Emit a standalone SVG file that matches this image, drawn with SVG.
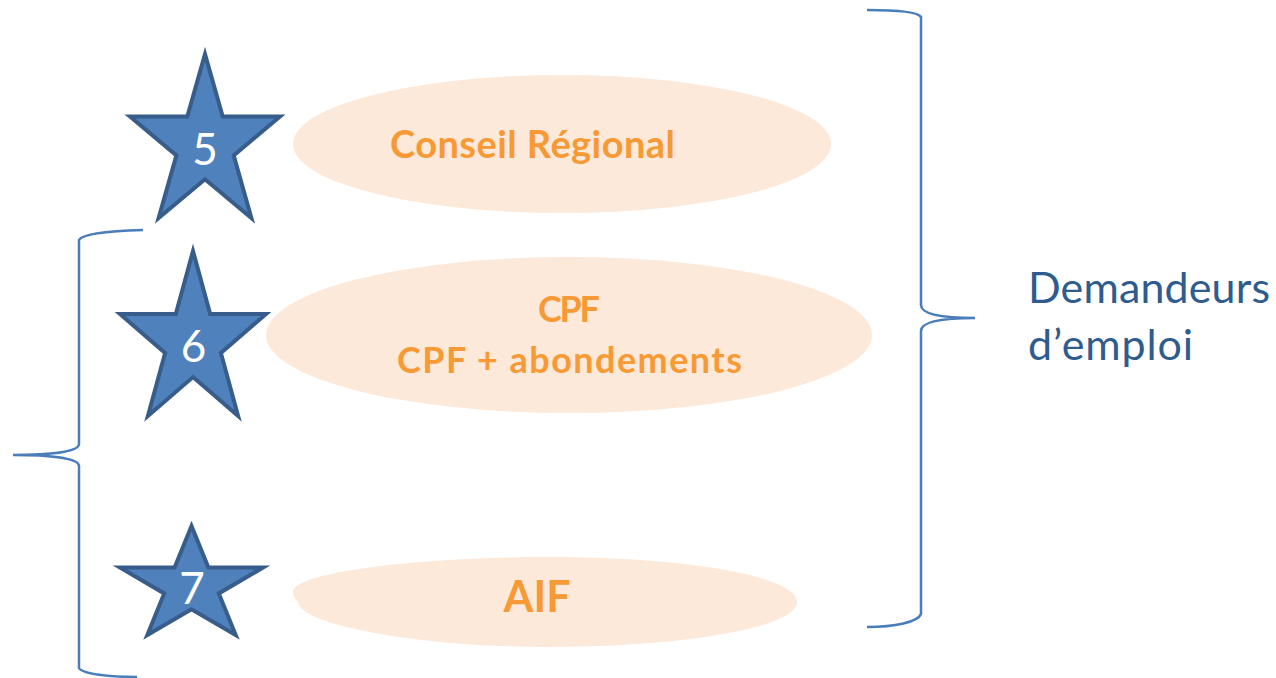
<svg xmlns="http://www.w3.org/2000/svg" width="1276" height="678" viewBox="0 0 1276 678">
<style>
.star{fill:#4F81BD;stroke:#385D8A;stroke-width:4;stroke-linejoin:miter}
.num{font-family:Lato,"Liberation Sans",sans-serif;font-size:44px;fill:#FFFFFF;text-anchor:middle}
.oval{fill:#FDE9D9;stroke:none}
.lbl{font-family:Lato,"Liberation Sans",sans-serif;font-weight:bold;fill:#F79A35;text-anchor:middle}
.brace{fill:none;stroke:#4A7EBB;stroke-width:2.5}
.side{font-family:Lato,"Liberation Sans",sans-serif;font-size:43px;fill:#2F5C8F}
</style>
<rect width="1276" height="678" fill="#FFFFFF"/>
<g id="connectors">
<path class="brace" d="M 867,10 C 895,10 918,12 921,17 L 921,305 C 921,314 940,318 975,318 C 940,318 921,322 921,331 L 921,614 C 918,622 895,627 867,627"/>
<path class="brace" d="M 143,230 C 110,231 82,234 79,240 L 79,444 C 79,452 50,455 13,455 C 50,455 79,458 79,466 L 79,668 C 82,674 110,677 137,677"/>
</g>
<g id="oval-conseil">
<ellipse class="oval" cx="562" cy="144" rx="269" ry="69"/>
<text class="lbl" x="532.5" y="158" font-size="38" textLength="285" lengthAdjust="spacing">Conseil Régional</text>
</g>
<g id="oval-cpf">
<ellipse class="oval" cx="569" cy="335" rx="303" ry="78"/>
<text class="lbl" x="569" y="322" font-size="36" textLength="62" lengthAdjust="spacing">CPF</text>
<text class="lbl" x="569.5" y="373" font-size="36" textLength="345" lengthAdjust="spacing">CPF + abondements</text>
</g>
<g id="oval-aif">
<path class="oval" d="M 298,602 C 300,625 420,647 548,647 C 680,647 797,628 797,602 C 797,575 680,557 548,557 C 420,557 293,572 293,592 C 293,597 296,599 298,602 Z"/>
<text class="lbl" x="537" y="612" font-size="43">AIF</text>
</g>
<g id="star-5">
<path class="star" d="M 205,54 L 222.7,116.6 L 280,116.6 L 233.7,155.4 L 251.4,218 L 205,179.3 L 158.6,218 L 176.4,155.4 L 130,116.6 L 187.3,116.6 Z"/>
<text class="num" x="205" y="165">5</text>
</g>
<g id="star-6">
<path class="star" d="M 193,251 L 210.2,314 L 266,314 L 220.9,353 L 238.1,416 L 193,377.1 L 147.9,416 L 165.1,353 L 120,314 L 175.8,314 Z"/>
<text class="num" x="193.5" y="362">6</text>
</g>
<g id="star-7">
<path class="star" d="M 191.5,526 L 208.4,567.6 L 263,567.6 L 218.8,593.4 L 235.7,635 L 191.5,609.3 L 147.3,635 L 164.2,593.4 L 120,567.6 L 174.6,567.6 Z"/>
<text class="num" x="192" y="604">7</text>
</g>
<g id="label-demandeurs">
<text class="side" x="1028" y="303" textLength="242" lengthAdjust="spacing">Demandeurs</text>
<text class="side" x="1028" y="360" textLength="165" lengthAdjust="spacing">d’emploi</text>
</g>
</svg>
